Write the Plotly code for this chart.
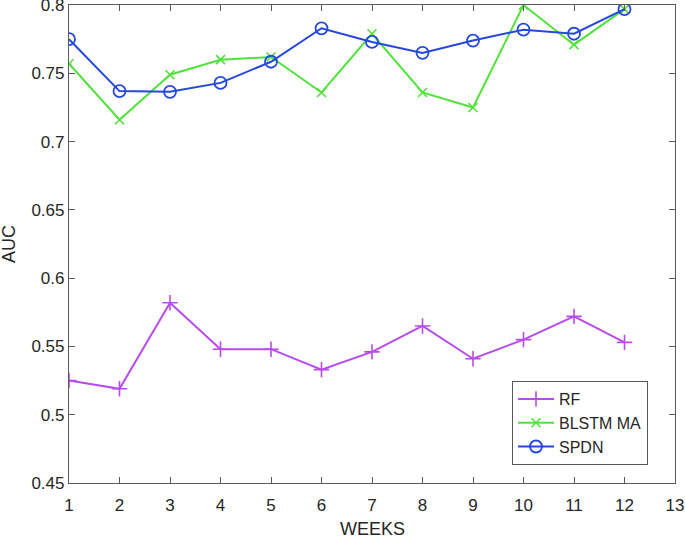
import plotly.graph_objects as go

weeks = list(range(1, 13))
rf = [0.525, 0.519, 0.582, 0.548, 0.548, 0.533, 0.546, 0.565, 0.541, 0.555, 0.572, 0.553]
blstm = [0.757, 0.716, 0.749, 0.760, 0.762, 0.736, 0.779, 0.736, 0.725, 0.800, 0.771, 0.797]
spdn = [0.775, 0.737, 0.7365, 0.743, 0.7585, 0.783, 0.773, 0.765, 0.774, 0.782, 0.779, 0.797]

y_ticks = [0.45, 0.5, 0.55, 0.6, 0.65, 0.7, 0.75, 0.8]
y_text = ["0.45", "0.5", "0.55", "0.6", "0.65", "0.7", "0.75", "0.8"]
x_ticks = list(range(1, 14))

FONT = "Liberation Sans, Arial"
TXT = "#262626"
AX = "#5a5a5a"

fig = go.Figure()
fig.add_trace(go.Scatter(x=weeks, y=rf, name="RF", mode="lines+markers",
                         line=dict(color="#B84BEA", width=2),
                         marker=dict(symbol="cross-thin", size=11, line=dict(color="#B84BEA", width=1.6))))
fig.add_trace(go.Scatter(x=weeks, y=blstm, name="BLSTM MA", mode="lines+markers",
                         line=dict(color="#52E23C", width=2),
                         marker=dict(symbol="x-thin", size=9, line=dict(color="#52E23C", width=1.6))))
fig.add_trace(go.Scatter(x=weeks, y=spdn, name="SPDN", mode="lines+markers",
                         line=dict(color="#2447E0", width=2),
                         marker=dict(symbol="circle-open", size=12, color="#2447E0", line=dict(width=1.8))))

axis_common = dict(showgrid=False, zeroline=False, showline=True, linecolor=AX, linewidth=1.2,
                   mirror="ticks", ticks="inside", ticklen=6, tickcolor=AX, automargin=False,
                   ticklabeloverflow="allow",
                   tickfont=dict(family=FONT, size=17, color=TXT))

fig.update_xaxes(range=[1, 13.0001], tickvals=x_ticks, ticklabelstandoff=6, **axis_common)
fig.update_yaxes(range=[0.45, 0.80005], tickvals=y_ticks, ticktext=y_text, **axis_common)

fig.add_annotation(text="WEEKS", xref="paper", yref="paper", x=0.5, y=-(529 - 483) / 478,
                   xanchor="center", yanchor="middle", showarrow=False,
                   font=dict(family=FONT, size=18, color=TXT))
fig.add_annotation(text="AUC", xref="paper", yref="paper", x=-(69 - 9) / 606, y=0.5,
                   xanchor="center", yanchor="middle", showarrow=False, textangle=-90,
                   font=dict(family=FONT, size=18, color=TXT))

fig.update_layout(
    width=685, height=538,
    margin=dict(l=69, r=10, t=5, b=55),
    plot_bgcolor="white", paper_bgcolor="white",
    font=dict(family=FONT, color=TXT),
    legend=dict(x=(512 - 69) / 606, y=(483 - 381) / 478, xanchor="left", yanchor="top",
                bordercolor=AX, borderwidth=1, bgcolor="white",
                font=dict(size=16, color=TXT), tracegroupgap=0, itemwidth=36),
    showlegend=True,
)

fig.write_html("out.html", config={"displayModeBar": False},
               post_script="document.body.style.margin='0px';")
